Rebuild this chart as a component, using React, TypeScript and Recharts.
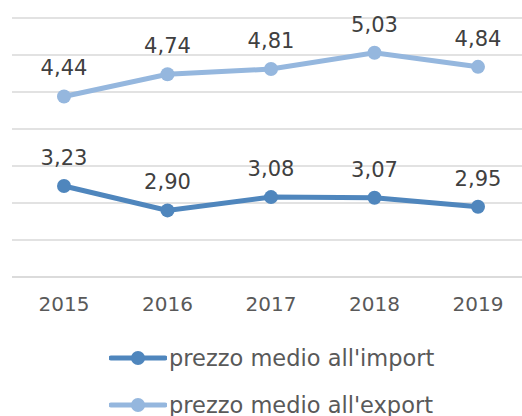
import { CartesianGrid, LabelList, Legend, Line, LineChart, XAxis, YAxis } from "recharts";

const years = ["2015", "2016", "2017", "2018", "2019"];
const importPrice = [3.23, 2.9, 3.08, 3.07, 2.95];
const exportPrice = [4.44, 4.74, 4.81, 5.03, 4.84];
const yTicks = [2, 2.5, 3, 3.5, 4, 4.5, 5, 5.5];

const IMPORT_COLOR = "#4f86bd";
const EXPORT_COLOR = "#95b7de";
const FONT = "'DejaVu Sans', sans-serif";

const data = years.map((year, i) => ({
  year,
  imp: importPrice[i],
  exp: exportPrice[i],
}));

const fmt = (v: number) => v.toFixed(2).replace(".", ",");

const legendItems = [
  { label: "prezzo medio all'import", color: IMPORT_COLOR },
  { label: "prezzo medio all'export", color: EXPORT_COLOR },
];

function ChartLegend() {
  return (
    <div style={{ position: "relative", width: 522, height: 100, fontFamily: FONT }}>
      {legendItems.map((item, i) => (
        <div
          key={item.label}
          style={{
            position: "absolute",
            left: 97,
            top: 28 + i * 47,
            display: "flex",
            alignItems: "center",
            height: 28,
            whiteSpace: "nowrap",
          }}
        >
          <svg width={58} height={20}>
            <line x1={2} y1={10} x2={56} y2={10} stroke={item.color} strokeWidth={5} strokeLinecap="round" />
            <circle cx={29} cy={10} r={7} fill={item.color} />
          </svg>
          <span style={{ fontSize: 22.5, color: "#595959", marginLeft: 2 }}>{item.label}</span>
        </div>
      ))}
    </div>
  );
}

export default function App() {
  return (
    <div style={{ position: "absolute", left: 0, top: 0, width: 522, height: 416, background: "#fff", overflow: "hidden" }}>
      <LineChart width={522} height={416} data={data} margin={{ top: 18, right: -8, left: 12, bottom: 0 }}>
        <CartesianGrid vertical={false} stroke="#d9d9d9" strokeWidth={1.5} />
        <XAxis
          dataKey="year"
          axisLine={{ stroke: "#d9d9d9", strokeWidth: 1.5 }}
          tickLine={false}
          height={39}
          padding={{ left: 52, right: 52 }}
          tick={{ fill: "#595959", fontSize: 20, fontFamily: FONT }}
          tickMargin={14}
        />
        <YAxis hide domain={[2, 5.5]} ticks={yTicks} />
        <Legend verticalAlign="bottom" height={100} content={() => <ChartLegend />} />
        <Line
          dataKey="imp"
          stroke={IMPORT_COLOR}
          strokeWidth={5}
          dot={{ r: 7, fill: IMPORT_COLOR, stroke: IMPORT_COLOR, strokeWidth: 0 }}
          isAnimationActive={false}
        >
          <LabelList
            dataKey="imp"
            position="top"
            offset={21}
            formatter={(v: number) => fmt(v)}
            style={{ fill: "#404040", fontSize: 21, fontFamily: FONT }}
          />
        </Line>
        <Line
          dataKey="exp"
          stroke={EXPORT_COLOR}
          strokeWidth={5}
          dot={{ r: 7, fill: EXPORT_COLOR, stroke: EXPORT_COLOR, strokeWidth: 0 }}
          isAnimationActive={false}
        >
          <LabelList
            dataKey="exp"
            position="top"
            offset={21}
            formatter={(v: number) => fmt(v)}
            style={{ fill: "#404040", fontSize: 21, fontFamily: FONT }}
          />
        </Line>
      </LineChart>
    </div>
  );
}
